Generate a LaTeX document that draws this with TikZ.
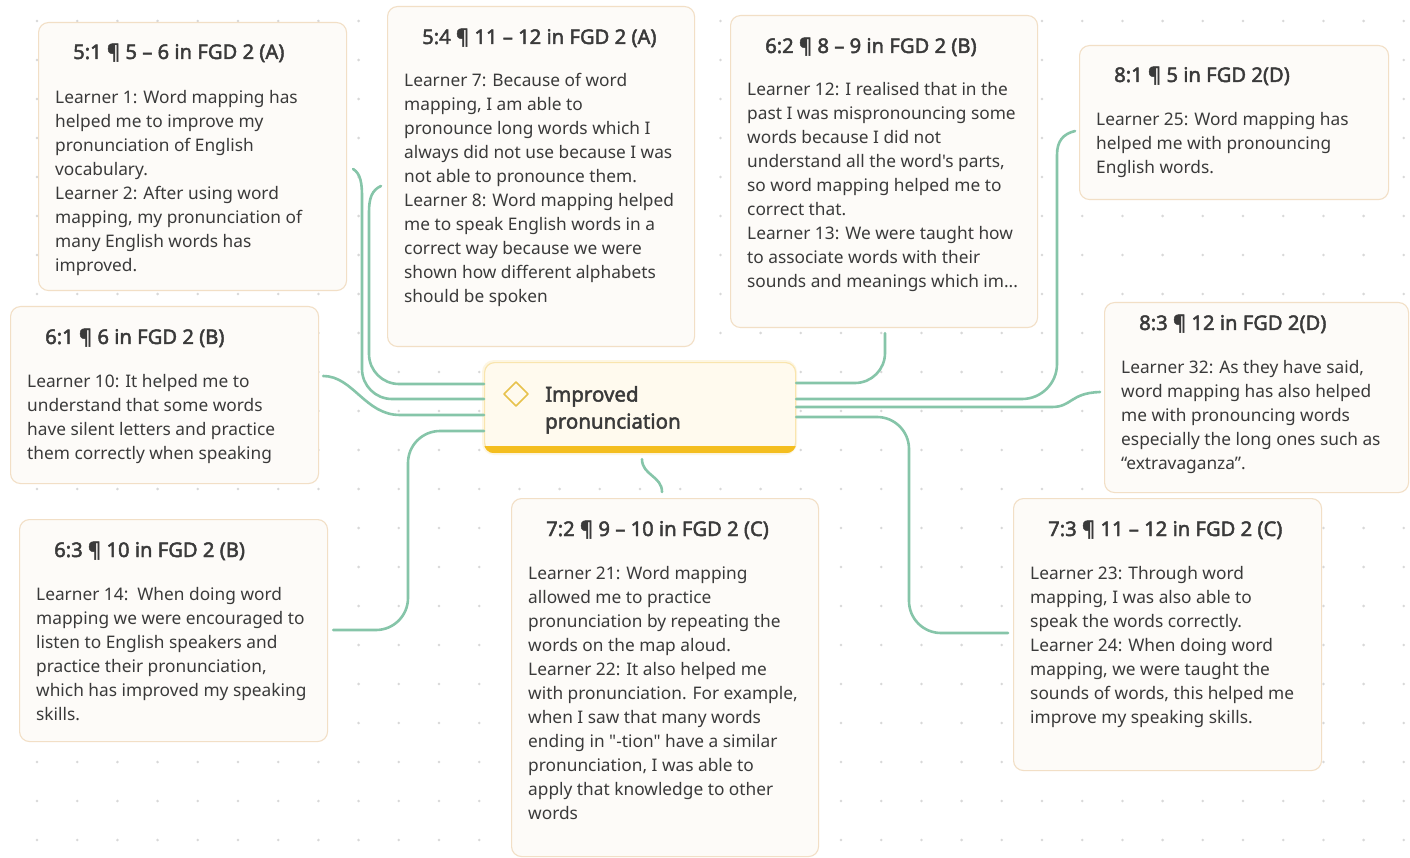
\documentclass[tikz,border=0pt]{standalone}
\usepackage{fontspec}
\setmainfont{Noto Sans}[Ligatures=TeXOff, AutoFakeBold=2.2]
\usetikzlibrary{calc}

\definecolor{ink}{HTML}{3A3A3A}
\definecolor{boxfill}{HTML}{FDFBF8}
\definecolor{boxline}{HTML}{F2DFC6}
\definecolor{ctrfill}{HTML}{FFFAEE}
\definecolor{ctrline}{HTML}{F9E5AE}
\definecolor{ctrbar}{HTML}{F4BE1F}
\definecolor{diam}{HTML}{E7C24C}
\definecolor{wirec}{HTML}{86C5A9}
\definecolor{dotc}{HTML}{D8D8D8}

\tikzset{
  qbox/.style={draw=boxline, line width=1.1pt, fill=boxfill, rounded corners=10pt, inner sep=0pt},
  qtitle/.style={font=\fontsize{20.2}{24}\selectfont\bfseries, text=ink, inner sep=0pt},
  qbody/.style={font=\fontsize{17.3}{24}\selectfont, text=ink, align=left, inner sep=0pt},
  wire/.style={draw=wirec, line width=2.6pt, line cap=round},
}

% quote card: name, x, y, width, height, title line offset, first body line offset, title, body
\newcommand\quotebox[9]{%
  \node[qbox, minimum width=#4pt, minimum height=#5pt, anchor=north west] (#1) at (#2,#3) {};
  \node[qtitle, anchor=base west] (#1-t) at ($(#1.north west)+(35,#6+7)$) {#8};
  \node[qbody, anchor=north west] (#1-b) at ($(#1.north west)+(17,#7-10.8)$) {\strut #9};
}

\begin{document}
\begin{tikzpicture}[x=1pt,y=-1pt]
\useasboundingbox (0,0) rectangle (1410,858);
\fill[white] (0,0) rectangle (1410,858);

% dotted canvas
\foreach \i in {0,...,34}{
  \foreach \j in {0,...,21}{
    \fill[dotc] ({37+40.2*\i},{21+39*\j}) circle[radius=1.4pt];
  }
}

% central topic with a soft glow
\fill[ctrline!35, rounded corners=12pt] (482,360) rectangle (797,455);
\node[draw=ctrline, line width=1.2pt, fill=ctrfill, rounded corners=10pt,
      minimum width=311pt, minimum height=90pt, inner sep=0pt, anchor=north west] (ctr) at (484,362) {};
\begin{scope}
  \clip[rounded corners=10pt] (ctr.north west) rectangle (ctr.south east);
  \fill[ctrbar] ($(ctr.south west)+(0,-7)$) rectangle (ctr.south east);
\end{scope}
\draw[diam, line width=1.6pt, line join=round]
  ($(ctr.north west)+(20,32)$) -- ($(ctr.north west)+(32,20)$) --
  ($(ctr.north west)+(44,32)$) -- ($(ctr.north west)+(32,44)$) -- cycle;
\node[anchor=north west, font=\fontsize{20.5}{27}\selectfont\bfseries, align=left, text=ink, inner sep=0pt]
  (ctr-t) at ($(ctr.north west)+(61,20.5)$) {\strut Improved\\pronunciation};

% quote cards
\quotebox{bA1}{38}{22}{308}{268}{30}{75}{5:1 ¶ 5 – 6 in FGD 2 (A)}
{Learner 1: Word mapping has\\helped me to improve my\\pronunciation of English\\vocabulary.\\Learner 2: After using word\\mapping, my pronunciation of\\many English words has\\improved.}

\quotebox{bA4}{387}{6}{307}{340}{31}{74}{5:4 ¶ 11 – 12 in FGD 2 (A)}
{Learner 7: Because of word\\mapping, I am able to\\pronounce long words which I\\always did not use because I was\\not able to pronounce them.\\Learner 8: Word mapping helped\\me to speak English words in a\\correct way because we were\\shown how different alphabets\\should be spoken}

\quotebox{bB2}{730}{15}{307}{312}{31}{74}{6:2 ¶ 8 – 9 in FGD 2 (B)}
{Learner 12: I realised that in the\\past I was mispronouncing some\\words because I did not\\understand all the word's parts,\\so word mapping helped me to\\correct that.\\Learner 13: We were taught how\\to associate words with their\\sounds and meanings which im...}

\quotebox{bD1}{1079}{45}{309}{154}{30}{74}{8:1 ¶ 5 in FGD 2(D)}
{Learner 25: Word mapping has\\helped me with pronouncing\\English words.}

\quotebox{bB1}{10}{306}{308}{177}{31}{75}{6:1 ¶ 6 in FGD 2 (B)}
{Learner 10: It helped me to\\understand that some words\\have silent letters and practice\\them correctly when speaking}

\quotebox{bD3}{1104}{302}{304}{190}{21}{65}{8:3 ¶ 12 in FGD 2(D)}
{Learner 32: As they have said,\\word mapping has also helped\\me with pronouncing words\\especially the long ones such as\\“extravaganza”.}

\quotebox{bB3}{19}{519}{308}{222}{31}{75}{6:3 ¶ 10 in FGD 2 (B)}
{Learner 14:\ \ When doing word\\mapping we were encouraged to\\listen to English speakers and\\practice their pronunciation,\\which has improved my speaking\\skills.}

\quotebox{bC2}{511}{498}{307}{358}{31}{75}{7:2 ¶ 9 – 10 in FGD 2 (C)}
{Learner 21: Word mapping\\allowed me to practice\\pronunciation by repeating the\\words on the map aloud.\\Learner 22: It also helped me\\with pronunciation. For example,\\when I saw that many words\\ending in "-tion" have a similar\\pronunciation, I was able to\\apply that knowledge to other\\words}

\quotebox{bC3}{1013}{498}{308}{272}{31}{75}{7:3 ¶ 11 – 12 in FGD 2 (C)}
{Learner 23: Through word\\mapping, I was also able to\\speak the words correctly.\\Learner 24: When doing word\\mapping, we were taught the\\sounds of words, this helped me\\improve my speaking skills.}

% attachment points on the central topic
\coordinate (cl1) at ($(ctr.north west)+(0,22)$);
\coordinate (cl2) at ($(ctr.north west)+(0,37)$);
\coordinate (cl3) at ($(ctr.north west)+(0,53)$);
\coordinate (cl4) at ($(ctr.north west)+(0,69)$);
\coordinate (cr1) at ($(ctr.north east)+(0,21)$);
\coordinate (cr2) at ($(ctr.north east)+(0,37)$);
\coordinate (cr3) at ($(ctr.north east)+(0,45)$);
\coordinate (cr4) at ($(ctr.north east)+(0,55)$);
\coordinate (cb)  at ($(ctr.south west)+(158,6)$);

% attachment points on the cards
\coordinate (a4s) at ($(bA4.north west)+(-6,180)$);
\coordinate (a1s) at ($(bA1.north east)+(6,147)$);
\coordinate (b1s) at ($(bB1.north east)+(4,70)$);
\coordinate (b3e) at ($(bB3.north east)+(5,111)$);
\coordinate (b2s) at ($(bB2.south west)+(155,5)$);
\coordinate (d1s) at ($(bD1.north west)+(-4,86)$);
\coordinate (d3s) at ($(bD3.north west)+(-4,90)$);
\coordinate (c3e) at ($(bC3.north west)+(-5,135)$);
\coordinate (c2n) at ($(bC2.north west)+(151,-6)$);

% branches
\draw[wire] (a4s) .. controls +(-9,4) and +(0,-14) .. (369,212) [rounded corners=30pt] |- (cl1);
\draw[wire] (a1s) .. controls +(8,5) and +(0,-14) .. (362,198) [rounded corners=30pt] |- (cl2);
\draw[wire] (b1s) .. controls +(30,0) and +(-35,0) .. (400,415) -- (cl3);
\draw[wire, rounded corners=32pt] (cl4) -| (408,630) -- (b3e);
\draw[wire, rounded corners=30pt] (b2s) |- (cr1);
\draw[wire] (d1s) .. controls +(-12,3) and +(0,-14) .. (1057,155) [rounded corners=35pt] |- (cr2);
\draw[wire] (cr3) -- (1052,407) .. controls (1072,407) and (1070,393) .. (d3s);
\draw[wire, rounded corners=32pt] (cr4) -| (909,633) -- (c3e);
\draw[wire] (cb) .. controls +(0,16) and +(0,-16) .. (c2n);
\end{tikzpicture}
\end{document}
